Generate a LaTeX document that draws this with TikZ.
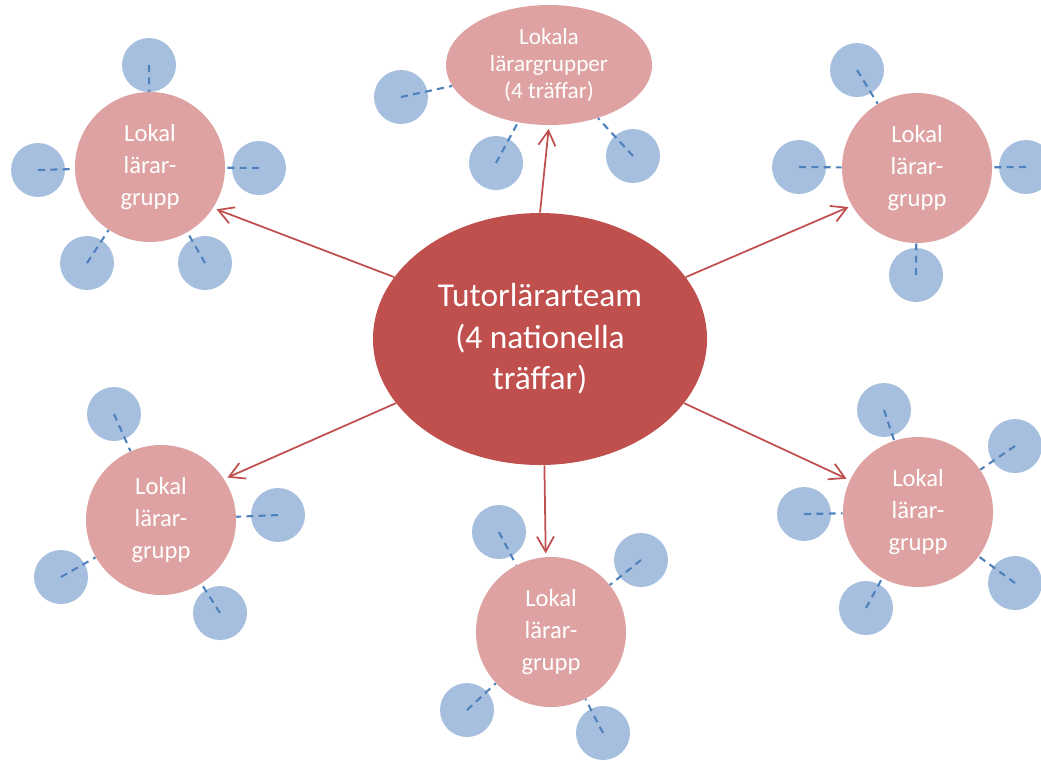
\documentclass[tikz,border=0pt]{standalone}
\usepackage{fontspec}
\setmainfont{Carlito}
\usepackage{tikz}
\usetikzlibrary{shapes.geometric, arrows.meta}
\definecolor{teamred}{RGB}{192,80,77}
\definecolor{grouppink}{RGB}{221,162,161}
\definecolor{memberblue}{RGB}{167,191,222}
\definecolor{tieblue}{RGB}{79,129,189}

\tikzset{
  team/.style={ellipse, fill=teamred, text=white, minimum width=6.68cm, minimum height=5.04cm, inner sep=0pt, align=center, font=\fontsize{19}{23.5}\selectfont},
  hub/.style={ellipse, fill=grouppink, text=white, minimum width=4.12cm, minimum height=2.4cm, inner sep=0pt, align=center, font=\fontsize{13.2}{15.3}\selectfont},
  group/.style={circle, fill=grouppink, text=white, minimum size=3cm, inner sep=0pt, align=center, font=\fontsize{14}{18}\selectfont},
  member/.style={circle, fill=memberblue, minimum size=1.08cm, inner sep=0pt},
  tie/.style={draw=tieblue, dash pattern=on 4pt off 3pt, line width=1.2pt},
  link/.style={draw=teamred, line width=1pt, -{Straight Barb[length=3mm,width=3.4mm]}, shorten >=2pt}
}

\begin{document}
\begin{tikzpicture}
\useasboundingbox (0,0) rectangle (20.82,-15.2);

% centre and the six groups
\node[team] (tut) at (10.8,-6.78) {Tutorlärarteam\\(4 nationella\\träffar)};
\node[hub] (lg) at (10.98,-1.3) {Lokala\\lärargrupper\\(4 träffar)};
\node[group] (g1) at (3.0,-3.34) {Lokal\\lärar-\\grupp};
\node[group] (g2) at (18.34,-3.36) {Lokal\\lärar-\\grupp};
\node[group] (g3) at (3.22,-10.4) {Lokal\\lärar-\\grupp};
\node[group] (g4) at (11.02,-12.64) {Lokal\\lärar-\\grupp};
\node[group] (g5) at (18.36,-10.24) {Lokal\\lärar-\\grupp};

% members of each group
\foreach \x/\y [count=\i] in {8.02/-1.94, 9.92/-3.26, 12.66/-3.12}{
  \node[member] (lgm\i) at (\x,\y) {};
  \draw[tie] (lgm\i.center) -- (lg);
}
\foreach \x/\y [count=\i] in {2.98/-1.3, 0.76/-3.4, 5.18/-3.36, 1.74/-5.26, 4.1/-5.26}{
  \node[member] (g1m\i) at (\x,\y) {};
  \draw[tie] (g1m\i.center) -- (g1);
}
\foreach \x/\y [count=\i] in {17.14/-1.4, 15.98/-3.34, 20.52/-3.34, 18.32/-5.5}{
  \node[member] (g2m\i) at (\x,\y) {};
  \draw[tie] (g2m\i.center) -- (g2);
}
\foreach \x/\y [count=\i] in {2.28/-8.28, 5.56/-10.3, 1.22/-11.54, 4.4/-12.26}{
  \node[member] (g3m\i) at (\x,\y) {};
  \draw[tie] (g3m\i.center) -- (g3);
}
\foreach \x/\y [count=\i] in {9.98/-10.64, 12.82/-11.2, 9.34/-14.2, 12.06/-14.66}{
  \node[member] (g4m\i) at (\x,\y) {};
  \draw[tie] (g4m\i.center) -- (g4);
}
\foreach \x/\y [count=\i] in {17.68/-8.2, 20.3/-8.92, 16.08/-10.28, 17.32/-12.16, 20.3/-11.66}{
  \node[member] (g5m\i) at (\x,\y) {};
  \draw[tie] (g5m\i.center) -- (g5);
}

% arrows from the team
\draw[link] (tut.157) -- (g1.-33);
\draw[link] (tut.90) -- (lg.-90);
\draw[link] (tut.23) -- (g2.210);
\draw[link] (tut.204) -- (g3.33);
\draw[link] (tut.-88) -- (g4.94);
\draw[link] (tut.-24) -- (g5.155);
\end{tikzpicture}
\end{document}
